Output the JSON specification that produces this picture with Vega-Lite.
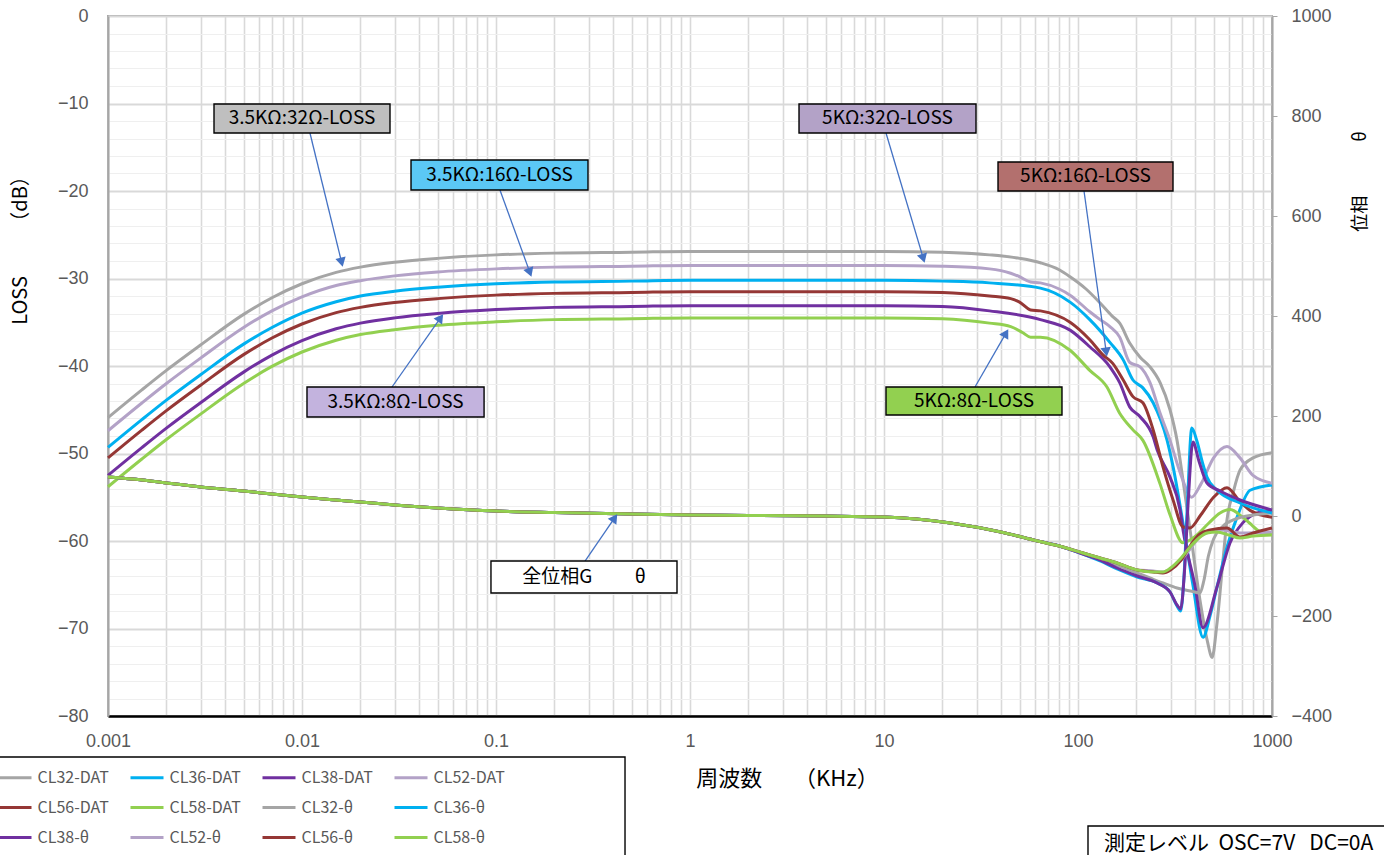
{
"$schema":"https://vega.github.io/schema/vega-lite/v6.json",
"width":1164,"height":700,
"autosize":{"type":"none"},
"padding":{"left":108,"top":16,"right":112,"bottom":139},
"background":"white",
"config":{"view":{"stroke":"#A6A6A6","strokeWidth":2},"font":"Liberation Sans"},
"datasets":{
"curves":[
{"s":"CL32-DAT","f":0.001,"v":-45.9},{"s":"CL32-DAT","f":0.0015,"v":-42.7},{"s":"CL32-DAT","f":0.002,"v":-40.5},{"s":"CL32-DAT","f":0.003,"v":-37.6},{"s":"CL32-DAT","f":0.005,"v":-34.1},{"s":"CL32-DAT","f":0.007,"v":-32.2},{"s":"CL32-DAT","f":0.01,"v":-30.6},{"s":"CL32-DAT","f":0.015,"v":-29.3},{"s":"CL32-DAT","f":0.02,"v":-28.7},{"s":"CL32-DAT","f":0.03,"v":-28.15},{"s":"CL32-DAT","f":0.05,"v":-27.7},{"s":"CL32-DAT","f":0.1,"v":-27.3},{"s":"CL32-DAT","f":0.2,"v":-27.1},{"s":"CL32-DAT","f":0.5,"v":-27.0},{"s":"CL32-DAT","f":1,"v":-26.9},{"s":"CL32-DAT","f":5,"v":-26.9},{"s":"CL32-DAT","f":10,"v":-26.9},{"s":"CL32-DAT","f":20,"v":-27.0},{"s":"CL32-DAT","f":35,"v":-27.3},{"s":"CL32-DAT","f":50,"v":-27.7},{"s":"CL32-DAT","f":64,"v":-28.2},{"s":"CL32-DAT","f":80,"v":-29.0},{"s":"CL32-DAT","f":91,"v":-29.8},{"s":"CL32-DAT","f":110,"v":-31.2},{"s":"CL32-DAT","f":130,"v":-32.8},{"s":"CL32-DAT","f":150,"v":-34.3},{"s":"CL32-DAT","f":164,"v":-35.1},{"s":"CL32-DAT","f":185,"v":-37.4},{"s":"CL32-DAT","f":209,"v":-39.0},{"s":"CL32-DAT","f":235,"v":-40.1},{"s":"CL32-DAT","f":265,"v":-41.9},{"s":"CL32-DAT","f":298,"v":-45.0},{"s":"CL32-DAT","f":324,"v":-48.5},{"s":"CL32-DAT","f":350,"v":-53.5},{"s":"CL32-DAT","f":378,"v":-58.7},{"s":"CL32-DAT","f":425,"v":-66.7},{"s":"CL32-DAT","f":465,"v":-71.5},{"s":"CL32-DAT","f":491,"v":-73.3},{"s":"CL32-DAT","f":520,"v":-69.5},{"s":"CL32-DAT","f":560,"v":-62.0},{"s":"CL32-DAT","f":586,"v":-57.6},{"s":"CL32-DAT","f":630,"v":-54.5},{"s":"CL32-DAT","f":684,"v":-51.9},{"s":"CL32-DAT","f":798,"v":-50.5},{"s":"CL32-DAT","f":1000,"v":-49.9},
{"s":"CL36-DAT","f":0.001,"v":-49.3},{"s":"CL36-DAT","f":0.0015,"v":-46.1},{"s":"CL36-DAT","f":0.002,"v":-43.9},{"s":"CL36-DAT","f":0.003,"v":-41.0},{"s":"CL36-DAT","f":0.005,"v":-37.5},{"s":"CL36-DAT","f":0.007,"v":-35.6},{"s":"CL36-DAT","f":0.01,"v":-33.95},{"s":"CL36-DAT","f":0.015,"v":-32.65},{"s":"CL36-DAT","f":0.02,"v":-32.0},{"s":"CL36-DAT","f":0.03,"v":-31.45},{"s":"CL36-DAT","f":0.05,"v":-31.0},{"s":"CL36-DAT","f":0.1,"v":-30.6},{"s":"CL36-DAT","f":0.2,"v":-30.4},{"s":"CL36-DAT","f":0.5,"v":-30.3},{"s":"CL36-DAT","f":1,"v":-30.2},{"s":"CL36-DAT","f":10,"v":-30.2},{"s":"CL36-DAT","f":20,"v":-30.3},{"s":"CL36-DAT","f":35,"v":-30.5},{"s":"CL36-DAT","f":64,"v":-31.1},{"s":"CL36-DAT","f":91,"v":-32.7},{"s":"CL36-DAT","f":115,"v":-34.7},{"s":"CL36-DAT","f":146,"v":-37.3},{"s":"CL36-DAT","f":171,"v":-39.3},{"s":"CL36-DAT","f":192,"v":-41.6},{"s":"CL36-DAT","f":216,"v":-42.5},{"s":"CL36-DAT","f":244,"v":-44.2},{"s":"CL36-DAT","f":288,"v":-48.5},{"s":"CL36-DAT","f":309,"v":-51.5},{"s":"CL36-DAT","f":348,"v":-58.0},{"s":"CL36-DAT","f":391,"v":-65.0},{"s":"CL36-DAT","f":441,"v":-71.0},{"s":"CL36-DAT","f":480,"v":-68.5},{"s":"CL36-DAT","f":520,"v":-65.3},{"s":"CL36-DAT","f":586,"v":-60.7},{"s":"CL36-DAT","f":660,"v":-57.3},{"s":"CL36-DAT","f":771,"v":-54.2},{"s":"CL36-DAT","f":1000,"v":-53.6},
{"s":"CL38-DAT","f":0.001,"v":-52.5},{"s":"CL38-DAT","f":0.0015,"v":-49.3},{"s":"CL38-DAT","f":0.002,"v":-47.1},{"s":"CL38-DAT","f":0.003,"v":-44.2},{"s":"CL38-DAT","f":0.005,"v":-40.7},{"s":"CL38-DAT","f":0.007,"v":-38.75},{"s":"CL38-DAT","f":0.01,"v":-37.1},{"s":"CL38-DAT","f":0.015,"v":-35.75},{"s":"CL38-DAT","f":0.02,"v":-35.1},{"s":"CL38-DAT","f":0.03,"v":-34.5},{"s":"CL38-DAT","f":0.05,"v":-34.0},{"s":"CL38-DAT","f":0.1,"v":-33.55},{"s":"CL38-DAT","f":0.2,"v":-33.3},{"s":"CL38-DAT","f":0.5,"v":-33.2},{"s":"CL38-DAT","f":1,"v":-33.1},{"s":"CL38-DAT","f":10,"v":-33.1},{"s":"CL38-DAT","f":20,"v":-33.2},{"s":"CL38-DAT","f":35,"v":-33.7},{"s":"CL38-DAT","f":64,"v":-34.7},{"s":"CL38-DAT","f":91,"v":-35.9},{"s":"CL38-DAT","f":115,"v":-37.8},{"s":"CL38-DAT","f":146,"v":-40.1},{"s":"CL38-DAT","f":164,"v":-41.9},{"s":"CL38-DAT","f":185,"v":-44.7},{"s":"CL38-DAT","f":209,"v":-45.8},{"s":"CL38-DAT","f":244,"v":-48.1},{"s":"CL38-DAT","f":256,"v":-49.6},{"s":"CL38-DAT","f":298,"v":-52.7},{"s":"CL38-DAT","f":336,"v":-56.5},{"s":"CL38-DAT","f":350,"v":-59.1},{"s":"CL38-DAT","f":400,"v":-65.0},{"s":"CL38-DAT","f":441,"v":-69.9},{"s":"CL38-DAT","f":520,"v":-65.3},{"s":"CL38-DAT","f":608,"v":-60.2},{"s":"CL38-DAT","f":709,"v":-57.9},{"s":"CL38-DAT","f":838,"v":-56.8},{"s":"CL38-DAT","f":1000,"v":-56.5},
{"s":"CL52-DAT","f":0.001,"v":-47.4},{"s":"CL52-DAT","f":0.0015,"v":-44.2},{"s":"CL52-DAT","f":0.002,"v":-42.0},{"s":"CL52-DAT","f":0.003,"v":-39.1},{"s":"CL52-DAT","f":0.005,"v":-35.6},{"s":"CL52-DAT","f":0.007,"v":-33.7},{"s":"CL52-DAT","f":0.01,"v":-32.1},{"s":"CL52-DAT","f":0.015,"v":-30.8},{"s":"CL52-DAT","f":0.02,"v":-30.25},{"s":"CL52-DAT","f":0.03,"v":-29.7},{"s":"CL52-DAT","f":0.05,"v":-29.25},{"s":"CL52-DAT","f":0.1,"v":-28.9},{"s":"CL52-DAT","f":0.2,"v":-28.7},{"s":"CL52-DAT","f":0.5,"v":-28.6},{"s":"CL52-DAT","f":1,"v":-28.5},{"s":"CL52-DAT","f":10,"v":-28.5},{"s":"CL52-DAT","f":20,"v":-28.6},{"s":"CL52-DAT","f":35,"v":-28.9},{"s":"CL52-DAT","f":45,"v":-29.4},{"s":"CL52-DAT","f":50,"v":-29.8},{"s":"CL52-DAT","f":57,"v":-30.4},{"s":"CL52-DAT","f":64,"v":-30.5},{"s":"CL52-DAT","f":80,"v":-31.2},{"s":"CL52-DAT","f":91,"v":-31.9},{"s":"CL52-DAT","f":115,"v":-33.8},{"s":"CL52-DAT","f":130,"v":-34.7},{"s":"CL52-DAT","f":146,"v":-35.5},{"s":"CL52-DAT","f":164,"v":-36.7},{"s":"CL52-DAT","f":185,"v":-39.6},{"s":"CL52-DAT","f":209,"v":-40.1},{"s":"CL52-DAT","f":235,"v":-41.9},{"s":"CL52-DAT","f":265,"v":-45.4},{"s":"CL52-DAT","f":298,"v":-48.5},{"s":"CL52-DAT","f":340,"v":-52.5},{"s":"CL52-DAT","f":385,"v":-55.0},{"s":"CL52-DAT","f":430,"v":-53.5},{"s":"CL52-DAT","f":500,"v":-50.5},{"s":"CL52-DAT","f":586,"v":-49.2},{"s":"CL52-DAT","f":684,"v":-50.5},{"s":"CL52-DAT","f":798,"v":-52.5},{"s":"CL52-DAT","f":1000,"v":-53.4},
{"s":"CL56-DAT","f":0.001,"v":-50.5},{"s":"CL56-DAT","f":0.0015,"v":-47.3},{"s":"CL56-DAT","f":0.002,"v":-45.1},{"s":"CL56-DAT","f":0.003,"v":-42.2},{"s":"CL56-DAT","f":0.005,"v":-38.7},{"s":"CL56-DAT","f":0.007,"v":-36.8},{"s":"CL56-DAT","f":0.01,"v":-35.2},{"s":"CL56-DAT","f":0.015,"v":-33.9},{"s":"CL56-DAT","f":0.02,"v":-33.3},{"s":"CL56-DAT","f":0.03,"v":-32.75},{"s":"CL56-DAT","f":0.05,"v":-32.3},{"s":"CL56-DAT","f":0.1,"v":-31.9},{"s":"CL56-DAT","f":0.2,"v":-31.7},{"s":"CL56-DAT","f":0.5,"v":-31.6},{"s":"CL56-DAT","f":1,"v":-31.5},{"s":"CL56-DAT","f":10,"v":-31.5},{"s":"CL56-DAT","f":20,"v":-31.6},{"s":"CL56-DAT","f":35,"v":-32.0},{"s":"CL56-DAT","f":45,"v":-32.3},{"s":"CL56-DAT","f":50,"v":-32.7},{"s":"CL56-DAT","f":57,"v":-33.6},{"s":"CL56-DAT","f":64,"v":-33.7},{"s":"CL56-DAT","f":91,"v":-35.0},{"s":"CL56-DAT","f":115,"v":-37.0},{"s":"CL56-DAT","f":134,"v":-38.7},{"s":"CL56-DAT","f":151,"v":-39.7},{"s":"CL56-DAT","f":171,"v":-41.6},{"s":"CL56-DAT","f":192,"v":-43.5},{"s":"CL56-DAT","f":216,"v":-44.2},{"s":"CL56-DAT","f":244,"v":-47.3},{"s":"CL56-DAT","f":274,"v":-51.5},{"s":"CL56-DAT","f":309,"v":-55.3},{"s":"CL56-DAT","f":348,"v":-58.4},{"s":"CL56-DAT","f":378,"v":-58.5},{"s":"CL56-DAT","f":430,"v":-57.0},{"s":"CL56-DAT","f":500,"v":-55.0},{"s":"CL56-DAT","f":586,"v":-53.9},{"s":"CL56-DAT","f":684,"v":-55.5},{"s":"CL56-DAT","f":771,"v":-56.5},{"s":"CL56-DAT","f":1000,"v":-57.3},
{"s":"CL58-DAT","f":0.001,"v":-53.8},{"s":"CL58-DAT","f":0.0015,"v":-50.6},{"s":"CL58-DAT","f":0.002,"v":-48.4},{"s":"CL58-DAT","f":0.003,"v":-45.5},{"s":"CL58-DAT","f":0.005,"v":-42.0},{"s":"CL58-DAT","f":0.007,"v":-40.05},{"s":"CL58-DAT","f":0.01,"v":-38.4},{"s":"CL58-DAT","f":0.015,"v":-37.05},{"s":"CL58-DAT","f":0.02,"v":-36.4},{"s":"CL58-DAT","f":0.03,"v":-35.85},{"s":"CL58-DAT","f":0.05,"v":-35.35},{"s":"CL58-DAT","f":0.1,"v":-34.95},{"s":"CL58-DAT","f":0.2,"v":-34.7},{"s":"CL58-DAT","f":0.5,"v":-34.6},{"s":"CL58-DAT","f":1,"v":-34.5},{"s":"CL58-DAT","f":10,"v":-34.5},{"s":"CL58-DAT","f":20,"v":-34.6},{"s":"CL58-DAT","f":35,"v":-35.1},{"s":"CL58-DAT","f":45,"v":-35.5},{"s":"CL58-DAT","f":52,"v":-36.2},{"s":"CL58-DAT","f":57,"v":-36.7},{"s":"CL58-DAT","f":64,"v":-36.7},{"s":"CL58-DAT","f":91,"v":-38.2},{"s":"CL58-DAT","f":115,"v":-40.5},{"s":"CL58-DAT","f":141,"v":-42.4},{"s":"CL58-DAT","f":164,"v":-45.4},{"s":"CL58-DAT","f":192,"v":-47.3},{"s":"CL58-DAT","f":216,"v":-48.5},{"s":"CL58-DAT","f":265,"v":-53.5},{"s":"CL58-DAT","f":298,"v":-57.0},{"s":"CL58-DAT","f":348,"v":-60.2},{"s":"CL58-DAT","f":400,"v":-59.5},{"s":"CL58-DAT","f":470,"v":-58.0},{"s":"CL58-DAT","f":540,"v":-56.8},{"s":"CL58-DAT","f":608,"v":-56.4},{"s":"CL58-DAT","f":700,"v":-57.2},{"s":"CL58-DAT","f":771,"v":-58.0},{"s":"CL58-DAT","f":867,"v":-58.9},{"s":"CL58-DAT","f":1000,"v":-59.1},
{"s":"CL32-θ","f":0.001,"v":78},{"s":"CL32-θ","f":0.0015,"v":72},{"s":"CL32-θ","f":0.002,"v":66},{"s":"CL32-θ","f":0.003,"v":58},{"s":"CL32-θ","f":0.005,"v":50},{"s":"CL32-θ","f":0.007,"v":44},{"s":"CL32-θ","f":0.01,"v":38},{"s":"CL32-θ","f":0.015,"v":32},{"s":"CL32-θ","f":0.02,"v":28},{"s":"CL32-θ","f":0.03,"v":22},{"s":"CL32-θ","f":0.05,"v":16},{"s":"CL32-θ","f":0.1,"v":10},{"s":"CL32-θ","f":0.2,"v":7},{"s":"CL32-θ","f":0.5,"v":4},{"s":"CL32-θ","f":1,"v":2},{"s":"CL32-θ","f":2,"v":1},{"s":"CL32-θ","f":5,"v":0},{"s":"CL32-θ","f":10,"v":-2},{"s":"CL32-θ","f":22,"v":-14},{"s":"CL32-θ","f":40,"v":-32},{"s":"CL32-θ","f":59,"v":-48},{"s":"CL32-θ","f":80,"v":-60},{"s":"CL32-θ","f":106,"v":-74},{"s":"CL32-θ","f":130,"v":-86},{"s":"CL32-θ","f":159,"v":-98},{"s":"CL32-θ","f":202,"v":-114},{"s":"CL32-θ","f":235,"v":-124},{"s":"CL32-θ","f":274,"v":-134},{"s":"CL32-θ","f":324,"v":-144},{"s":"CL32-θ","f":380,"v":-150},{"s":"CL32-θ","f":425,"v":-154},{"s":"CL32-θ","f":445,"v":-130},{"s":"CL32-θ","f":470,"v":-80},{"s":"CL32-θ","f":500,"v":-46},{"s":"CL32-θ","f":560,"v":-20},{"s":"CL32-θ","f":650,"v":-6},{"s":"CL32-θ","f":800,"v":2},{"s":"CL32-θ","f":1000,"v":6},
{"s":"CL36-θ","f":0.001,"v":78},{"s":"CL36-θ","f":0.0015,"v":72},{"s":"CL36-θ","f":0.002,"v":66},{"s":"CL36-θ","f":0.003,"v":58},{"s":"CL36-θ","f":0.005,"v":50},{"s":"CL36-θ","f":0.007,"v":44},{"s":"CL36-θ","f":0.01,"v":38},{"s":"CL36-θ","f":0.015,"v":32},{"s":"CL36-θ","f":0.02,"v":28},{"s":"CL36-θ","f":0.03,"v":22},{"s":"CL36-θ","f":0.05,"v":16},{"s":"CL36-θ","f":0.1,"v":10},{"s":"CL36-θ","f":0.2,"v":7},{"s":"CL36-θ","f":0.5,"v":4},{"s":"CL36-θ","f":1,"v":2},{"s":"CL36-θ","f":2,"v":1},{"s":"CL36-θ","f":5,"v":0},{"s":"CL36-θ","f":10,"v":-2},{"s":"CL36-θ","f":22,"v":-14},{"s":"CL36-θ","f":40,"v":-32},{"s":"CL36-θ","f":59,"v":-48},{"s":"CL36-θ","f":80,"v":-60},{"s":"CL36-θ","f":106,"v":-76},{"s":"CL36-θ","f":130,"v":-90},{"s":"CL36-θ","f":159,"v":-106},{"s":"CL36-θ","f":202,"v":-122},{"s":"CL36-θ","f":256,"v":-134},{"s":"CL36-θ","f":298,"v":-152},{"s":"CL36-θ","f":324,"v":-180},{"s":"CL36-θ","f":338,"v":-190},{"s":"CL36-θ","f":352,"v":-120},{"s":"CL36-θ","f":366,"v":20},{"s":"CL36-θ","f":386,"v":176},{"s":"CL36-θ","f":410,"v":150},{"s":"CL36-θ","f":440,"v":104},{"s":"CL36-θ","f":462,"v":78},{"s":"CL36-θ","f":520,"v":52},{"s":"CL36-θ","f":684,"v":26},{"s":"CL36-θ","f":1000,"v":6},
{"s":"CL38-θ","f":0.001,"v":78},{"s":"CL38-θ","f":0.0015,"v":72},{"s":"CL38-θ","f":0.002,"v":66},{"s":"CL38-θ","f":0.003,"v":58},{"s":"CL38-θ","f":0.005,"v":50},{"s":"CL38-θ","f":0.007,"v":44},{"s":"CL38-θ","f":0.01,"v":38},{"s":"CL38-θ","f":0.015,"v":32},{"s":"CL38-θ","f":0.02,"v":28},{"s":"CL38-θ","f":0.03,"v":22},{"s":"CL38-θ","f":0.05,"v":16},{"s":"CL38-θ","f":0.1,"v":10},{"s":"CL38-θ","f":0.2,"v":7},{"s":"CL38-θ","f":0.5,"v":4},{"s":"CL38-θ","f":1,"v":2},{"s":"CL38-θ","f":2,"v":1},{"s":"CL38-θ","f":5,"v":0},{"s":"CL38-θ","f":10,"v":-2},{"s":"CL38-θ","f":22,"v":-14},{"s":"CL38-θ","f":40,"v":-32},{"s":"CL38-θ","f":59,"v":-48},{"s":"CL38-θ","f":80,"v":-60},{"s":"CL38-θ","f":106,"v":-76},{"s":"CL38-θ","f":130,"v":-88},{"s":"CL38-θ","f":159,"v":-104},{"s":"CL38-θ","f":202,"v":-120},{"s":"CL38-θ","f":256,"v":-134},{"s":"CL38-θ","f":298,"v":-152},{"s":"CL38-θ","f":324,"v":-178},{"s":"CL38-θ","f":338,"v":-186},{"s":"CL38-θ","f":354,"v":-110},{"s":"CL38-θ","f":370,"v":30},{"s":"CL38-θ","f":391,"v":148},{"s":"CL38-θ","f":420,"v":110},{"s":"CL38-θ","f":462,"v":66},{"s":"CL38-θ","f":540,"v":50},{"s":"CL38-θ","f":684,"v":32},{"s":"CL38-θ","f":1000,"v":12},
{"s":"CL52-θ","f":0.001,"v":78},{"s":"CL52-θ","f":0.0015,"v":72},{"s":"CL52-θ","f":0.002,"v":66},{"s":"CL52-θ","f":0.003,"v":58},{"s":"CL52-θ","f":0.005,"v":50},{"s":"CL52-θ","f":0.007,"v":44},{"s":"CL52-θ","f":0.01,"v":38},{"s":"CL52-θ","f":0.015,"v":32},{"s":"CL52-θ","f":0.02,"v":28},{"s":"CL52-θ","f":0.03,"v":22},{"s":"CL52-θ","f":0.05,"v":16},{"s":"CL52-θ","f":0.1,"v":10},{"s":"CL52-θ","f":0.2,"v":7},{"s":"CL52-θ","f":0.5,"v":4},{"s":"CL52-θ","f":1,"v":2},{"s":"CL52-θ","f":2,"v":1},{"s":"CL52-θ","f":5,"v":0},{"s":"CL52-θ","f":10,"v":-2},{"s":"CL52-θ","f":22,"v":-14},{"s":"CL52-θ","f":40,"v":-32},{"s":"CL52-θ","f":59,"v":-48},{"s":"CL52-θ","f":80,"v":-60},{"s":"CL52-θ","f":106,"v":-74},{"s":"CL52-θ","f":130,"v":-84},{"s":"CL52-θ","f":159,"v":-94},{"s":"CL52-θ","f":202,"v":-108},{"s":"CL52-θ","f":244,"v":-110},{"s":"CL52-θ","f":274,"v":-112},{"s":"CL52-θ","f":300,"v":-106},{"s":"CL52-θ","f":340,"v":-88},{"s":"CL52-θ","f":378,"v":-66},{"s":"CL52-θ","f":430,"v":-40},{"s":"CL52-θ","f":540,"v":-28},{"s":"CL52-θ","f":700,"v":-34},{"s":"CL52-θ","f":1000,"v":-32},
{"s":"CL56-θ","f":0.001,"v":78},{"s":"CL56-θ","f":0.0015,"v":72},{"s":"CL56-θ","f":0.002,"v":66},{"s":"CL56-θ","f":0.003,"v":58},{"s":"CL56-θ","f":0.005,"v":50},{"s":"CL56-θ","f":0.007,"v":44},{"s":"CL56-θ","f":0.01,"v":38},{"s":"CL56-θ","f":0.015,"v":32},{"s":"CL56-θ","f":0.02,"v":28},{"s":"CL56-θ","f":0.03,"v":22},{"s":"CL56-θ","f":0.05,"v":16},{"s":"CL56-θ","f":0.1,"v":10},{"s":"CL56-θ","f":0.2,"v":7},{"s":"CL56-θ","f":0.5,"v":4},{"s":"CL56-θ","f":1,"v":2},{"s":"CL56-θ","f":2,"v":1},{"s":"CL56-θ","f":5,"v":0},{"s":"CL56-θ","f":10,"v":-2},{"s":"CL56-θ","f":22,"v":-14},{"s":"CL56-θ","f":40,"v":-32},{"s":"CL56-θ","f":59,"v":-48},{"s":"CL56-θ","f":80,"v":-60},{"s":"CL56-θ","f":106,"v":-74},{"s":"CL56-θ","f":130,"v":-84},{"s":"CL56-θ","f":159,"v":-94},{"s":"CL56-θ","f":202,"v":-108},{"s":"CL56-θ","f":244,"v":-112},{"s":"CL56-θ","f":274,"v":-114},{"s":"CL56-θ","f":300,"v":-108},{"s":"CL56-θ","f":340,"v":-88},{"s":"CL56-θ","f":378,"v":-60},{"s":"CL56-θ","f":425,"v":-36},{"s":"CL56-θ","f":480,"v":-28},{"s":"CL56-θ","f":586,"v":-24},{"s":"CL56-θ","f":684,"v":-42},{"s":"CL56-θ","f":800,"v":-34},{"s":"CL56-θ","f":1000,"v":-24},
{"s":"CL58-θ","f":0.001,"v":78},{"s":"CL58-θ","f":0.0015,"v":72},{"s":"CL58-θ","f":0.002,"v":66},{"s":"CL58-θ","f":0.003,"v":58},{"s":"CL58-θ","f":0.005,"v":50},{"s":"CL58-θ","f":0.007,"v":44},{"s":"CL58-θ","f":0.01,"v":38},{"s":"CL58-θ","f":0.015,"v":32},{"s":"CL58-θ","f":0.02,"v":28},{"s":"CL58-θ","f":0.03,"v":22},{"s":"CL58-θ","f":0.05,"v":16},{"s":"CL58-θ","f":0.1,"v":10},{"s":"CL58-θ","f":0.2,"v":7},{"s":"CL58-θ","f":0.5,"v":4},{"s":"CL58-θ","f":1,"v":2},{"s":"CL58-θ","f":2,"v":1},{"s":"CL58-θ","f":5,"v":0},{"s":"CL58-θ","f":10,"v":-2},{"s":"CL58-θ","f":22,"v":-14},{"s":"CL58-θ","f":40,"v":-32},{"s":"CL58-θ","f":59,"v":-48},{"s":"CL58-θ","f":80,"v":-60},{"s":"CL58-θ","f":106,"v":-74},{"s":"CL58-θ","f":130,"v":-84},{"s":"CL58-θ","f":159,"v":-94},{"s":"CL58-θ","f":202,"v":-108},{"s":"CL58-θ","f":244,"v":-112},{"s":"CL58-θ","f":274,"v":-112},{"s":"CL58-θ","f":300,"v":-104},{"s":"CL58-θ","f":340,"v":-84},{"s":"CL58-θ","f":378,"v":-62},{"s":"CL58-θ","f":420,"v":-44},{"s":"CL58-θ","f":462,"v":-34},{"s":"CL58-θ","f":520,"v":-32},{"s":"CL58-θ","f":600,"v":-38},{"s":"CL58-θ","f":684,"v":-44},{"s":"CL58-θ","f":800,"v":-40},{"s":"CL58-θ","f":1000,"v":-38}
],
"notes":[
{"t":"3.5KΩ:32Ω-LOSS","f1":0.003519,"f2":0.02842,"d1":-10.06,"d2":-13.37,"fc":0.01,"dc":-11.71},
{"t":"3.5KΩ:16Ω-LOSS","f1":0.03647,"f2":0.298,"d1":-16.46,"d2":-19.89,"fc":0.1042,"dc":-18.17},
{"t":"5KΩ:32Ω-LOSS","f1":3.647,"f2":29.8,"d1":-10.06,"d2":-13.37,"fc":10.42,"dc":-11.71},
{"t":"5KΩ:16Ω-LOSS","f1":38.7,"f2":308.8,"d1":-16.69,"d2":-20.0,"fc":109.3,"dc":-18.34},
{"t":"3.5KΩ:8Ω-LOSS","f1":0.01061,"f2":0.0868,"d1":-42.4,"d2":-45.83,"fc":0.03034,"dc":-44.11},
{"t":"5KΩ:8Ω-LOSS","f1":10.24,"f2":82.69,"d1":-42.4,"d2":-45.6,"fc":29.1,"dc":-44.0},
{"t":"全位相G　　 θ","f1":0.0942,"f2":0.857,"d1":-62.29,"d2":-65.94,"fc":0.2842,"dc":-64.11}
],
"meas":[{"t":"測定レベル\u00a0\u00a0OSC=7V\u00a0\u00a0\u00a0DC=0A","f1":112.6,"f2":5000,"d1":-92.57,"d2":-98,"fx":136.1,"dy":-95.3}],
"legendbox":[{"f1":0.000219,"f2":0.4624,"d1":-84.69,"d2":-98}],
"arrows":[
{"a":"A1","f1":0.01099,"d1":-13.37,"f2":0.016,"d2":-28.14},
{"a":"A2","f1":0.1048,"d1":-19.89,"f2":0.1495,"d2":-29.3},
{"a":"A3","f1":10.24,"d1":-13.37,"f2":15.94,"d2":-27.69},
{"a":"A4","f1":107.4,"d1":-20.0,"f2":139.8,"d2":-38.41},
{"a":"A5","f1":0.0291,"d1":-42.4,"f2":0.05174,"d2":-34.5},
{"a":"A6","f1":29.45,"d1":-42.4,"f2":42.55,"d2":-36.25},
{"a":"A7","f1":0.2876,"d1":-62.29,"f2":0.4088,"d2":-57.37}
]
},
"resolve":{"scale":{"y":"independent"}},
"layer":[
{
"data":{"name":"curves"},
"transform":[{"filter":"indexof(datum.s,'DAT') >= 0"}],
"mark":{"type":"line","strokeWidth":3,"interpolate":"monotone"},
"encoding":{
"x":{"field":"f","type":"quantitative","scale":{"type":"log","domain":[0.001,1000],"nice":false},
 "axis":{"title":"周波数　\u00a0\u00a0（KHz）","values":[0.001,0.002,0.003,0.004,0.005,0.006,0.007,0.008,0.009,0.01,0.02,0.03,0.04,0.05,0.06,0.07,0.08,0.09,0.1,0.2,0.3,0.4,0.5,0.6,0.7,0.8,0.9,1,2,3,4,5,6,7,8,9,10,20,30,40,50,60,70,80,90,100,200,300,400,500,600,700,800,900,1000],
 "labelExpr":"indexof([0.001,0.01,0.1,1,10,100,1000], datum.value) >= 0 ? format(datum.value,'~g') : ''",
 "grid":true,"gridColor":"#D9D9D9","gridWidth":1.6,"ticks":false,"domainColor":"#000000","domainWidth":2.5,
 "labelFontSize":18,"labelColor":"#595959","labelPadding":16,"labelFlush":false,"labelOverlap":false,
 "titleFont":"Noto Sans CJK JP","titleFontSize":22,"titleFontWeight":"normal","titleColor":"#000000","titleX":679,"titleY":62,"titleAlign":"center","titleBaseline":"middle"}},
"y":{"field":"v","type":"quantitative","scale":{"domain":[-80,0],"nice":false,"zero":false},
 "axis":{"title":"LOSS　　\u00a0（dB）","values":[-80,-78,-76,-74,-72,-70,-68,-66,-64,-62,-60,-58,-56,-54,-52,-50,-48,-46,-44,-42,-40,-38,-36,-34,-32,-30,-28,-26,-24,-22,-20,-18,-16,-14,-12,-10,-8,-6,-4,-2,0],
 "labelExpr":"datum.value % 10 === 0 ? datum.label : ''",
 "grid":true,"gridColor":{"condition":{"test":"datum.value % 10 === 0","value":"#D9D9D9"},"value":"#EFEFEF"},
 "gridWidth":{"condition":{"test":"datum.value % 10 === 0","value":1.8},"value":1.2},
 "ticks":false,"domainColor":"#A6A6A6","domainWidth":2,"labelFontSize":18,"labelColor":"#595959","labelPadding":20,"labelOverlap":false,"labelFlush":false,
 "titleFont":"Noto Sans CJK JP","titleFontSize":20,"titleFontWeight":"normal","titleColor":"#000000","titleAngle":270,"titleX":-88,"titleY":229,"titleAlign":"center","titleBaseline":"middle"}},
"color":{"field":"s","type":"nominal",
 "scale":{"domain":["CL32-DAT","CL36-DAT","CL38-DAT","CL52-DAT","CL56-DAT","CL58-DAT","CL32-θ","CL36-θ","CL38-θ","CL52-θ","CL56-θ","CL58-θ"],"range":["#A5A5A5","#00B0F0","#7030A0","#B3A2C7","#953735","#92D050","#A5A5A5","#00B0F0","#7030A0","#B3A2C7","#953735","#92D050"]},
 "legend":{"title":null,"orient":"none","direction":"horizontal","legendX":-113.5,"legendY":741,"columns":4,"symbolType":"M-1.5,0L1.5,0","symbolSize":484,"symbolStrokeWidth":3,"labelFont":"Noto Sans CJK JP","labelFontSize":16,"labelColor":"#595959","labelOffset":10,"columnPadding":15,"rowPadding":9,"strokeColor":"transparent","fillColor":"transparent","padding":8,"labelLimit":300}}
}
},
{
"data":{"name":"curves"},
"transform":[{"filter":"indexof(datum.s,'θ') >= 0"}],
"mark":{"type":"line","strokeWidth":3,"interpolate":"monotone"},
"encoding":{
"x":{"field":"f","type":"quantitative","scale":{"type":"log","domain":[0.001,1000],"nice":false}},
"y":{"field":"v","type":"quantitative","scale":{"domain":[-400,1000],"nice":false,"zero":false},
 "axis":{"orient":"right","title":"位相　　　θ","values":[-400,-200,0,200,400,600,800,1000],"format":"d","grid":false,"ticks":true,"tickSize":5,"tickColor":"#A6A6A6","domainColor":"#A6A6A6","domainWidth":2,
 "labelFontSize":18,"labelColor":"#595959","labelPadding":14,"labelFlush":false,"labelOverlap":false,
 "titleFont":"Noto Sans CJK JP","titleFontSize":18,"titleFontWeight":"normal","titleColor":"#000000","titleAngle":270,"titleX":88,"titleY":165,"titleAlign":"center","titleBaseline":"middle"}},
"color":{"field":"s","type":"nominal",
 "scale":{"domain":["CL32-DAT","CL36-DAT","CL38-DAT","CL52-DAT","CL56-DAT","CL58-DAT","CL32-θ","CL36-θ","CL38-θ","CL52-θ","CL56-θ","CL58-θ"],"range":["#A5A5A5","#00B0F0","#7030A0","#B3A2C7","#953735","#92D050","#A5A5A5","#00B0F0","#7030A0","#B3A2C7","#953735","#92D050"]},
 "legend":{"title":null,"orient":"none","direction":"horizontal","legendX":-113.5,"legendY":741,"columns":4,"symbolType":"M-1.5,0L1.5,0","symbolSize":484,"symbolStrokeWidth":3,"labelFont":"Noto Sans CJK JP","labelFontSize":16,"labelColor":"#595959","labelOffset":10,"columnPadding":15,"rowPadding":9,"strokeColor":"transparent","fillColor":"transparent","padding":8,"labelLimit":300}}
}
},
{
"data":{"name":"legendbox"},
"mark":{"type":"rect","stroke":"#000000","strokeWidth":1.4,"fill":"#FFFFFF"},
"encoding":{
"x":{"field":"f1","type":"quantitative","scale":{"type":"log","domain":[0.001,1000],"nice":false}},
"x2":{"field":"f2"},
"y":{"field":"d1","type":"quantitative","scale":{"domain":[-80,0],"nice":false,"zero":false},"axis":null},
"y2":{"field":"d2"}
}
},
{
"data":{"name":"arrows"},
"mark":{"type":"rule","color":"#4472C4","strokeWidth":1.3},
"encoding":{
"x":{"field":"f1","type":"quantitative","scale":{"type":"log","domain":[0.001,1000],"nice":false}},
"x2":{"field":"f2"},
"y":{"field":"d1","type":"quantitative","scale":{"domain":[-80,0],"nice":false,"zero":false},"axis":null},
"y2":{"field":"d2"}
}
},
{"data":{"name":"arrows"},"transform":[{"filter":"datum.a==='A1'"}],"mark":{"type":"point","shape":"triangle-up","filled":true,"size":110,"color":"#4472C4","opacity":1,"angle":166},
"encoding":{"x":{"field":"f2","type":"quantitative","scale":{"type":"log","domain":[0.001,1000],"nice":false}},"y":{"field":"d2","type":"quantitative","scale":{"domain":[-80,0],"nice":false,"zero":false},"axis":null}}},
{"data":{"name":"arrows"},"transform":[{"filter":"datum.a==='A2'"}],"mark":{"type":"point","shape":"triangle-up","filled":true,"size":110,"color":"#4472C4","opacity":1,"angle":160},
"encoding":{"x":{"field":"f2","type":"quantitative","scale":{"type":"log","domain":[0.001,1000],"nice":false}},"y":{"field":"d2","type":"quantitative","scale":{"domain":[-80,0],"nice":false,"zero":false},"axis":null}}},
{"data":{"name":"arrows"},"transform":[{"filter":"datum.a==='A3'"}],"mark":{"type":"point","shape":"triangle-up","filled":true,"size":110,"color":"#4472C4","opacity":1,"angle":163},
"encoding":{"x":{"field":"f2","type":"quantitative","scale":{"type":"log","domain":[0.001,1000],"nice":false}},"y":{"field":"d2","type":"quantitative","scale":{"domain":[-80,0],"nice":false,"zero":false},"axis":null}}},
{"data":{"name":"arrows"},"transform":[{"filter":"datum.a==='A4'"}],"mark":{"type":"point","shape":"triangle-up","filled":true,"size":110,"color":"#4472C4","opacity":1,"angle":172},
"encoding":{"x":{"field":"f2","type":"quantitative","scale":{"type":"log","domain":[0.001,1000],"nice":false}},"y":{"field":"d2","type":"quantitative","scale":{"domain":[-80,0],"nice":false,"zero":false},"axis":null}}},
{"data":{"name":"arrows"},"transform":[{"filter":"datum.a==='A5'"}],"mark":{"type":"point","shape":"triangle-up","filled":true,"size":110,"color":"#4472C4","opacity":1,"angle":35.5},
"encoding":{"x":{"field":"f2","type":"quantitative","scale":{"type":"log","domain":[0.001,1000],"nice":false}},"y":{"field":"d2","type":"quantitative","scale":{"domain":[-80,0],"nice":false,"zero":false},"axis":null}}},
{"data":{"name":"arrows"},"transform":[{"filter":"datum.a==='A6'"}],"mark":{"type":"point","shape":"triangle-up","filled":true,"size":110,"color":"#4472C4","opacity":1,"angle":30},
"encoding":{"x":{"field":"f2","type":"quantitative","scale":{"type":"log","domain":[0.001,1000],"nice":false}},"y":{"field":"d2","type":"quantitative","scale":{"domain":[-80,0],"nice":false,"zero":false},"axis":null}}},
{"data":{"name":"arrows"},"transform":[{"filter":"datum.a==='A7'"}],"mark":{"type":"point","shape":"triangle-up","filled":true,"size":110,"color":"#4472C4","opacity":1,"angle":34.5},
"encoding":{"x":{"field":"f2","type":"quantitative","scale":{"type":"log","domain":[0.001,1000],"nice":false}},"y":{"field":"d2","type":"quantitative","scale":{"domain":[-80,0],"nice":false,"zero":false},"axis":null}}},
{
"data":{"name":"notes"},
"mark":{"type":"rect","stroke":"#000000","strokeWidth":1.4},
"encoding":{
"x":{"field":"f1","type":"quantitative","scale":{"type":"log","domain":[0.001,1000],"nice":false}},
"x2":{"field":"f2"},
"y":{"field":"d1","type":"quantitative","scale":{"domain":[-80,0],"nice":false,"zero":false},"axis":null},
"y2":{"field":"d2"},
"fill":{"field":"t","type":"nominal","legend":null,"scale":{"domain":["3.5KΩ:32Ω-LOSS","3.5KΩ:16Ω-LOSS","5KΩ:32Ω-LOSS","5KΩ:16Ω-LOSS","3.5KΩ:8Ω-LOSS","5KΩ:8Ω-LOSS","全位相G　　 θ"],"range":["#BFBFBF","#5BC8F5","#B3A2C7","#B3706E","#C3B3DE","#92D050","#FFFFFF"]}}
}
},
{
"data":{"name":"notes"},
"mark":{"type":"text","font":"Noto Sans CJK JP","fontSize":19,"color":"#000000","align":"center","baseline":"middle"},
"encoding":{
"x":{"field":"fc","type":"quantitative","scale":{"type":"log","domain":[0.001,1000],"nice":false}},
"y":{"field":"dc","type":"quantitative","scale":{"domain":[-80,0],"nice":false,"zero":false},"axis":null},
"text":{"field":"t"}
}
},
{
"data":{"name":"meas"},
"mark":{"type":"rect","stroke":"#000000","strokeWidth":1.4,"fill":"#FFFFFF"},
"encoding":{
"x":{"field":"f1","type":"quantitative","scale":{"type":"log","domain":[0.001,1000],"nice":false}},
"x2":{"field":"f2"},
"y":{"field":"d1","type":"quantitative","scale":{"domain":[-80,0],"nice":false,"zero":false},"axis":null},
"y2":{"field":"d2"}
}
},
{
"data":{"name":"meas"},
"mark":{"type":"text","font":"Noto Sans CJK JP","fontSize":21,"color":"#000000","align":"left","baseline":"alphabetic"},
"encoding":{
"x":{"field":"fx","type":"quantitative","scale":{"type":"log","domain":[0.001,1000],"nice":false}},
"y":{"field":"dy","type":"quantitative","scale":{"domain":[-80,0],"nice":false,"zero":false},"axis":null},
"text":{"field":"t"}
}
}
]
}
